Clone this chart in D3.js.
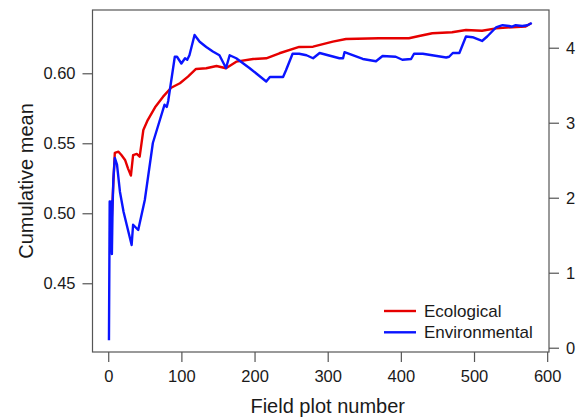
<!DOCTYPE html>
<html lang="en">
<head>
    <meta charset="UTF-8">
    <title>Cumulative mean</title>
    <script src="https://d3js.org/d3.v7.min.js"></script>
    <style>
        body {
            margin: 0;
            background: white;
        }
        svg {
            display: block;
            font-family: 'Liberation Sans', Arial, sans-serif;
        }
        .tick-label {
            font-size: 16.5px;
            fill: #1a1a1a;
        }
        .axis-title {
            font-size: 20px;
            fill: #1a1a1a;
        }
        .legend-text {
            font-size: 17px;
            fill: #1a1a1a;
        }
    </style>
</head>
<body>
    <svg id="chart" width="581" height="419"></svg>

    <script>
        // Ecological (left axis)
        const ecoPlot = [3, 5, 7, 9, 14, 18, 23, 27, 31, 34, 39, 43, 48, 54, 64, 75, 86, 98, 109, 120, 134, 148, 161, 175, 198, 216, 234, 261, 280, 307, 325, 370, 411, 425, 443, 470, 489, 511, 530, 552, 570, 578];
        const ecoMean = [0.4766, 0.4988, 0.5216, 0.5431, 0.5440, 0.5416, 0.5381, 0.5321, 0.5269, 0.5416, 0.5424, 0.5404, 0.5595, 0.5666, 0.5757, 0.5833, 0.5897, 0.5929, 0.5976, 0.6031, 0.6036, 0.6052, 0.6036, 0.6083, 0.6102, 0.6107, 0.6143, 0.6188, 0.6190, 0.6226, 0.6245, 0.6250, 0.6250, 0.6266, 0.6286, 0.6293, 0.6309, 0.6304, 0.6321, 0.6329, 0.6333, 0.6357];

        // Environmental (right axis)
        const envPlot = [1, 2, 3, 4, 5, 6, 7, 9, 12, 16, 21, 27, 32, 34, 41, 50, 61, 71, 77, 80, 82, 91, 94, 100, 105, 108, 111, 118, 125, 134, 143, 152, 161, 166, 175, 193, 216, 221, 239, 243, 252, 261, 271, 280, 289, 316, 321, 323, 348, 366, 375, 393, 402, 414, 418, 430, 462, 466, 471, 480, 489, 498, 511, 518, 530, 539, 548, 552, 557, 566, 573, 579];
        const envMean = [0.10, 1.95, 1.50, 1.95, 1.25, 1.90, 2.25, 2.53, 2.44, 2.08, 1.81, 1.57, 1.37, 1.64, 1.57, 1.97, 2.73, 3.05, 3.24, 3.21, 3.29, 3.88, 3.88, 3.79, 3.86, 3.84, 3.90, 4.17, 4.08, 4.01, 3.95, 3.90, 3.73, 3.90, 3.86, 3.73, 3.55, 3.61, 3.61, 3.70, 3.92, 3.92, 3.90, 3.86, 3.93, 3.86, 3.86, 3.94, 3.85, 3.82, 3.89, 3.88, 3.84, 3.85, 3.92, 3.92, 3.87, 3.88, 3.93, 3.93, 4.15, 4.14, 4.09, 4.15, 4.27, 4.30, 4.29, 4.28, 4.30, 4.29, 4.30, 4.33];

        const xTicks = [0, 100, 200, 300, 400, 500, 600];
        const leftTicks = [0.45, 0.50, 0.55, 0.60];
        const rightTicks = [0, 1, 2, 3, 4];

        const seriesNames = ['Ecological', 'Environmental'];
        const colors = ['#e60000', '#0a14ff'];

        const svg = d3.select('#chart');
        const box = { left: 92.5, right: 549, top: 10, bottom: 352 };

        const x = d3.scaleLinear().domain([-21.5, 602.5]).range([box.left, box.right]);
        const yLeft = d3.scaleLinear().domain([0.4009, 0.6452]).range([box.bottom, box.top]);
        const yRight = d3.scaleLinear().domain([-0.057, 4.503]).range([box.bottom, box.top]);

        const axisColor = '#555';

        // frame
        svg.append('rect')
            .attr('x', box.left)
            .attr('y', box.top)
            .attr('width', box.right - box.left)
            .attr('height', box.bottom - box.top)
            .attr('fill', 'none')
            .attr('stroke', axisColor)
            .attr('stroke-width', 1.2);

        // bottom axis
        const gx = svg.append('g')
            .attr('transform', `translate(0,${box.bottom})`)
            .call(d3.axisBottom(x).tickValues(xTicks).tickSize(10).tickPadding(8).tickFormat(d3.format('d')));
        gx.select('.domain').remove();

        // left axis
        const gl = svg.append('g')
            .attr('transform', `translate(${box.left},0)`)
            .call(d3.axisLeft(yLeft).tickValues(leftTicks).tickSize(10).tickPadding(7).tickFormat(d3.format('.2f')));
        gl.select('.domain').remove();

        // right axis
        const gr = svg.append('g')
            .attr('transform', `translate(${box.right},0)`)
            .call(d3.axisRight(yRight).tickValues(rightTicks).tickSize(10).tickPadding(7).tickFormat(d3.format('d')));
        gr.select('.domain').remove();

        svg.selectAll('.tick line').attr('stroke', axisColor).attr('stroke-width', 1.2);
        svg.selectAll('.tick text')
            .attr('class', 'tick-label')
            .attr('font-family', null)
            .attr('font-size', null);

        // lines
        const ecoLine = d3.line()
            .x((d, i) => x(ecoPlot[i]))
            .y(d => yLeft(d));
        const envLine = d3.line()
            .x((d, i) => x(envPlot[i]))
            .y(d => yRight(d));

        svg.append('path')
            .datum(ecoMean)
            .attr('d', ecoLine)
            .attr('fill', 'none')
            .attr('stroke', colors[0])
            .attr('stroke-width', 2.4)
            .attr('stroke-linejoin', 'round');

        svg.append('path')
            .datum(envMean)
            .attr('d', envLine)
            .attr('fill', 'none')
            .attr('stroke', colors[1])
            .attr('stroke-width', 2.4)
            .attr('stroke-linejoin', 'round');

        // axis titles
        svg.append('text')
            .attr('class', 'axis-title')
            .attr('x', (x(0) + x(600)) / 2)
            .attr('y', 413)
            .attr('text-anchor', 'middle')
            .text('Field plot number');

        svg.append('text')
            .attr('class', 'axis-title')
            .attr('transform', `translate(33,${(box.top + box.bottom) / 2}) rotate(-90)`)
            .attr('text-anchor', 'middle')
            .text('Cumulative mean');

        // legend
        const legend = svg.append('g').attr('transform', 'translate(384,311)');
        seriesNames.forEach((name, i) => {
            const row = legend.append('g').attr('transform', `translate(0,${i * 21.3})`);
            row.append('line')
                .attr('x1', 0).attr('x2', 32)
                .attr('stroke', colors[i])
                .attr('stroke-width', 2.4);
            row.append('text')
                .attr('class', 'legend-text')
                .attr('x', 40)
                .attr('dy', '0.35em')
                .text(name);
        });
    </script>
</body>
</html>
